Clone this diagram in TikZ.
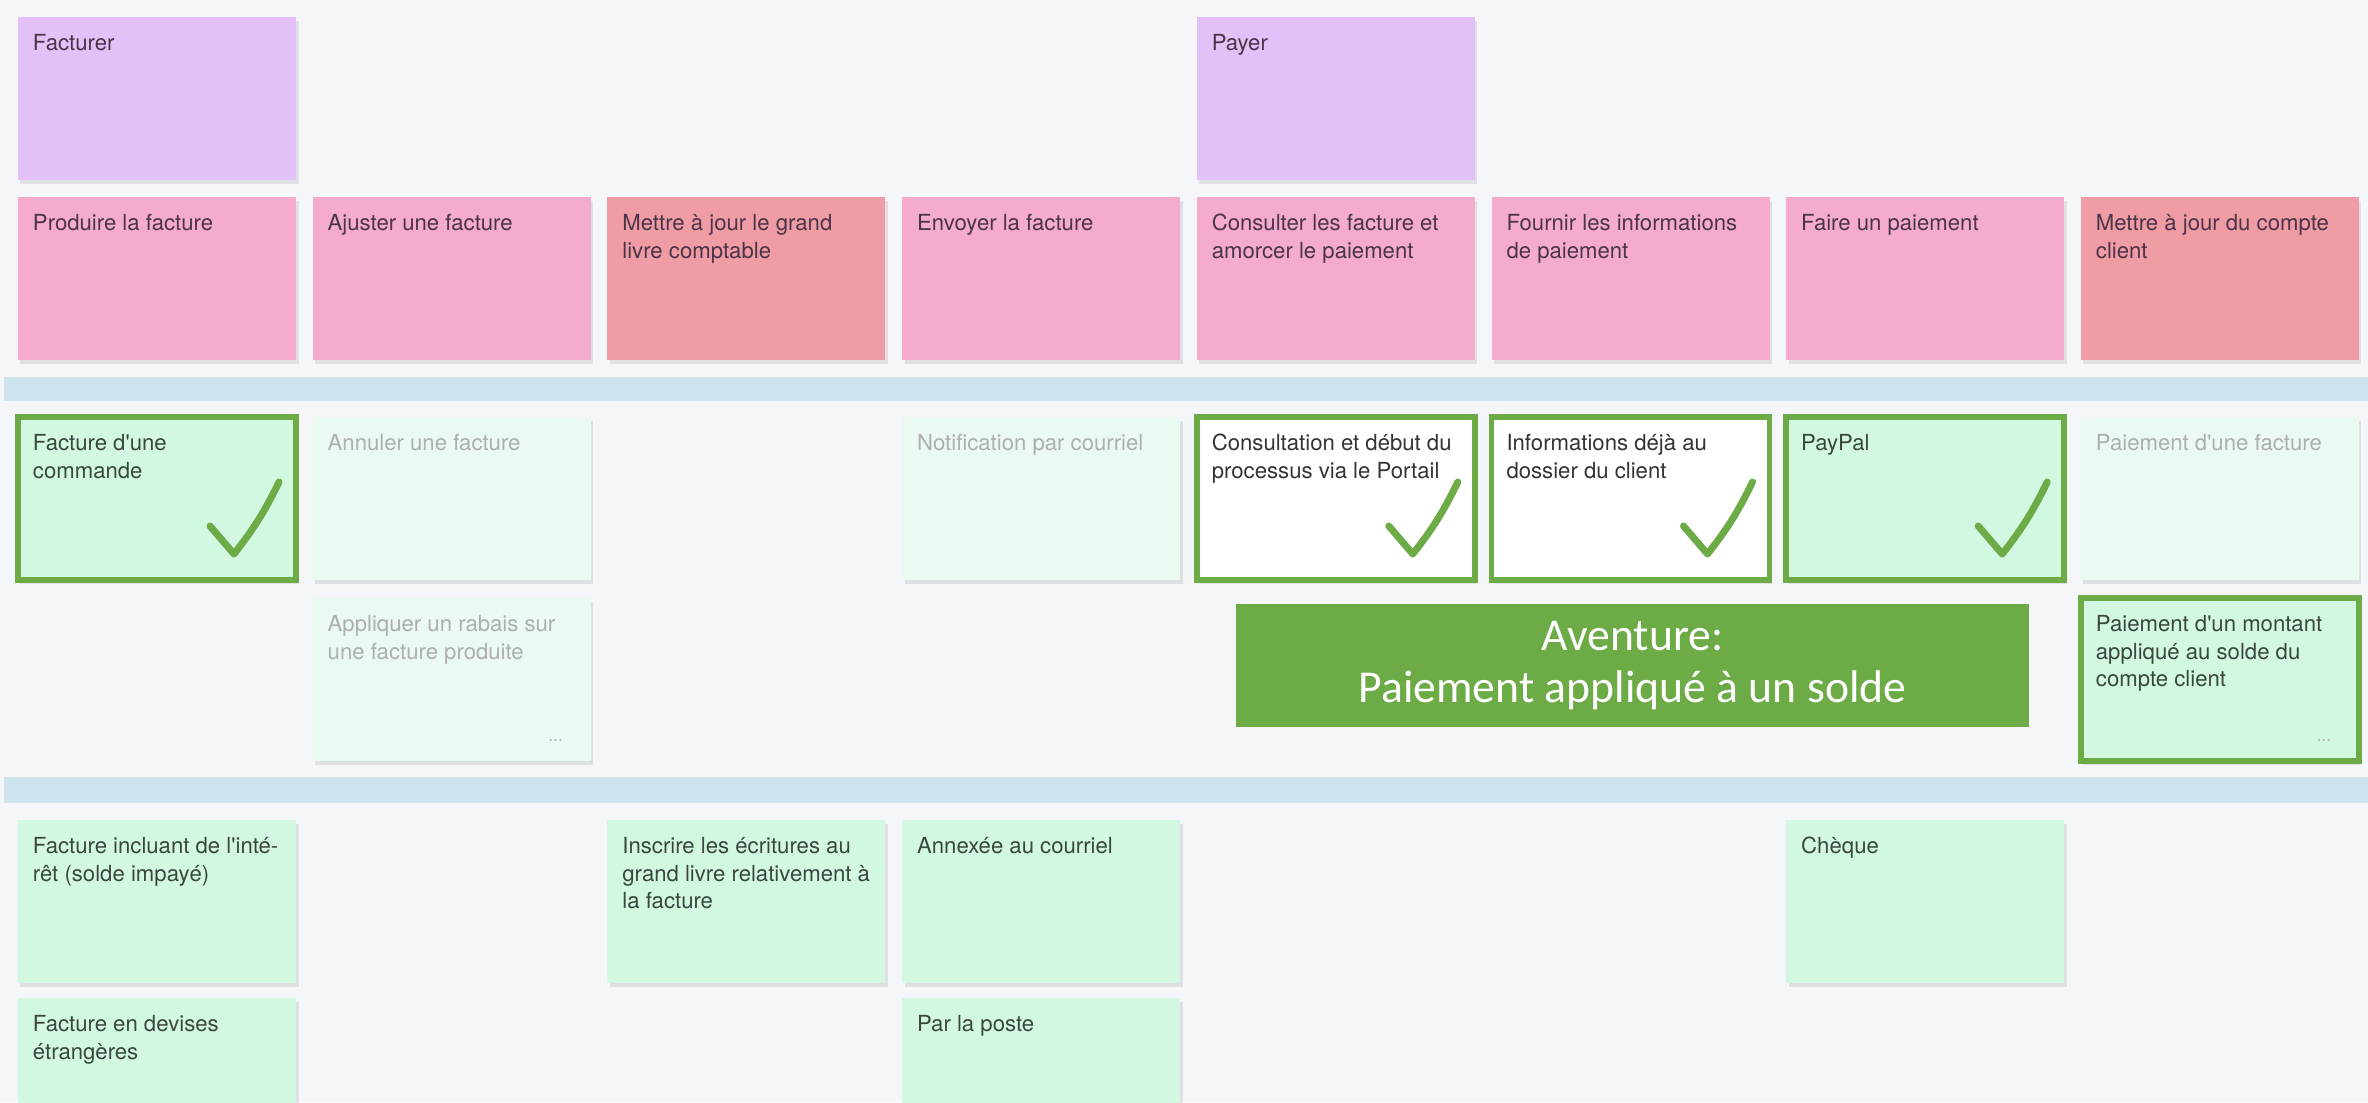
\documentclass[tikz,border=0pt]{standalone}
\usepackage{fontspec}
\setmainfont{TeX Gyre Heros}[Ligatures=TeXOff]
\newfontfamily\advfont{Carlito}
\usetikzlibrary{positioning, shadows}

\definecolor{board}{HTML}{F5F6F9}
\definecolor{lane}{HTML}{CFE4EF}
\definecolor{epicC}{HTML}{E4C0F9}
\definecolor{actC}{HTML}{F4ABCC}
\definecolor{ledgerC}{HTML}{F09CA5}
\definecolor{storyC}{HTML}{D2F8E2}
\definecolor{fadeC}{HTML}{EBFAF1}
\definecolor{okC}{HTML}{6CAB46}
\definecolor{inkP}{HTML}{4B3448}
\definecolor{inkG}{HTML}{3A4740}
\definecolor{fadeT}{HTML}{ABAFAD}

\newcommand{\cardtxt}[1]{\parbox[t][1.33cm][t]{2.48cm}{\raggedright\strut #1}}

\tikzset{
  card/.style={rectangle, anchor=north west, inner xsep=0.15cm, inner ysep=0.15cm, outer sep=0pt,
    font=\fontsize{6.3}{7.7}\selectfont,
    drop shadow={shadow xshift=0.025cm, shadow yshift=-0.035cm, opacity=0.18}},
  epic/.style={card, fill=epicC, text=inkP},
  activity/.style={card, fill=actC, text=inkP},
  ledger/.style={card, fill=ledgerC, text=inkP},
  story/.style={card, fill=storyC, text=inkG},
  faded/.style={card, fill=fadeC, text=fadeT},
  blank/.style={card, fill=white, text=black!80},
  picked/.style={draw=okC, line width=0.055cm, outer sep=0pt},
  tick/.style={draw=okC, line width=0.07cm, line cap=round, line join=round},
  more/.style={font=\fontsize{5}{6}\selectfont, text=fadeT, inner sep=0pt, anchor=base east},
  adventure/.style={rectangle, fill=okC, text=white, align=center,
    font=\advfont\fontsize{13}{15}\selectfont, minimum width=7.93cm, minimum height=1.23cm}
}

\begin{document}
\begin{tikzpicture}
    \useasboundingbox (0,0) rectangle (23.68,-11.02);
    \clip (0,0) rectangle (23.68,-11.02);
    \fill[board] (0,0) rectangle (23.68,-11.02);
    % swimlanes
    \fill[lane] (0.04,-3.77) rectangle (23.68,-4.01);
    \fill[lane] (0.04,-7.77) rectangle (23.68,-8.03);

    % backbone
    \node[epic] (facturer) at (0.18,-0.17) {\cardtxt{Facturer}};
    \node[epic] (payer) at (11.968,-0.17) {\cardtxt{Payer}};

    \node[activity] (produire) at (0.18,-1.97) {\cardtxt{Produire la facture}};
    \node[activity, right=0.167cm of produire] (ajuster) {\cardtxt{Ajuster une facture}};
    \node[ledger, right=0.167cm of ajuster] (grandlivre) {\cardtxt{Mettre à jour le grand\\livre comptable}};
    \node[activity, right=0.167cm of grandlivre] (envoyer) {\cardtxt{Envoyer la facture}};
    \node[activity, right=0.167cm of envoyer] (consulter) {\cardtxt{Consulter les facture et\\amorcer le paiement}};
    \node[activity, right=0.167cm of consulter] (fournir) {\cardtxt{Fournir les informations\\de paiement}};
    \node[activity, right=0.167cm of fournir] (faire) {\cardtxt{Faire un paiement}};
    \node[ledger, right=0.167cm of faire] (compte) {\cardtxt{Mettre à jour du compte\\client}};

    % first release
    \node[story, picked] (commande) at (0.18,-4.17) {\cardtxt{Facture d'une\\commande}};
    \node[faded, right=0.167cm of commande] (annuler) {\cardtxt{Annuler une facture}};
    \node[faded] (courriel) at (9.021,-4.17) {\cardtxt{Notification par courriel}};
    \node[blank, picked, right=0.167cm of courriel] (portail) {\cardtxt{Consultation et début du\\processus via le Portail}};
    \node[blank, picked, right=0.167cm of portail] (dossier) {\cardtxt{Informations déjà au\\dossier du client}};
    \node[story, picked, right=0.167cm of dossier] (paypal) {\cardtxt{PayPal}};
    \node[faded, right=0.167cm of paypal] (paiefact) {\cardtxt{Paiement d'une facture}};

    \node[faded, below=0.18cm of annuler] (rabais) {\cardtxt{Appliquer un rabais sur\\une facture produite}};
    \node[story, picked, below=0.18cm of paiefact] (solde) {\cardtxt{Paiement d'un montant\\appliqué au solde du\\compte client}};
    \node[more] (rabaisplus) at ([shift={(-0.27,0.2)}]rabais.south east) {...};
    \node[more] (soldeplus) at ([shift={(-0.27,0.2)}]solde.south east) {...};

    \node[adventure] (aventure) at (16.325,-6.655) {Aventure:\\Paiement appliqué à un solde};

    \foreach \n in {commande, portail, dossier, paypal}
        \draw[tick] ([shift={(-0.86,0.54)}]\n.south east) -- ([shift={(-0.62,0.26)}]\n.south east)
            to[bend right=6] ([shift={(-0.17,0.98)}]\n.south east);

    % later releases
    \node[story] (interet) at (0.18,-8.20) {\cardtxt{Facture incluant de l'inté-\\rêt (solde impayé)}};
    \node[story] (ecritures) at (6.074,-8.20) {\cardtxt{Inscrire les écritures au\\grand livre relativement à\\la facture}};
    \node[story, right=0.167cm of ecritures] (annexe) {\cardtxt{Annexée au courriel}};
    \node[story] (cheque) at (17.862,-8.20) {\cardtxt{Chèque}};

    \node[story, below=0.15cm of interet] (devises) {\cardtxt{Facture en devises\\étrangères}};
    \node[story, below=0.15cm of annexe] (poste) {\cardtxt{Par la poste}};
\end{tikzpicture}
\end{document}
